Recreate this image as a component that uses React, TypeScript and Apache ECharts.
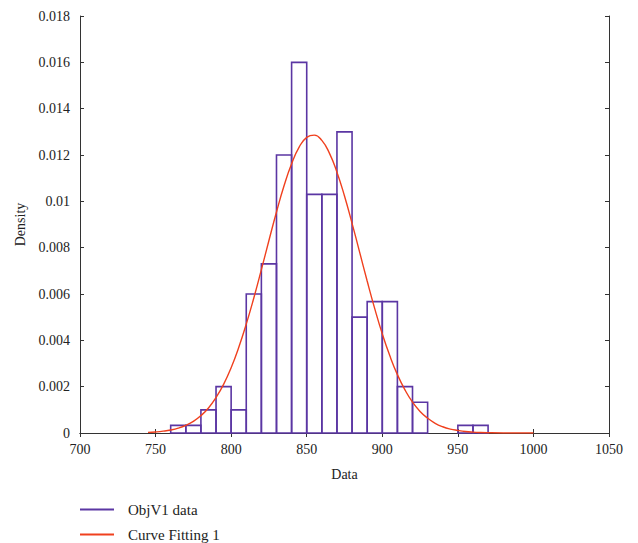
import React, { useEffect, useRef } from "react";
import * as echarts from "echarts";

// Histogram bins (left edge), bin width and density
const binStarts = [760, 770, 780, 790, 800, 810, 820, 830, 840, 850, 860, 870, 880, 890, 900, 910, 920, 950, 960];
const binWidth = 10;
const densities = [0.00033, 0.00033, 0.001, 0.002, 0.001, 0.006, 0.0073, 0.012, 0.016, 0.0103, 0.0103, 0.013, 0.005, 0.00567, 0.00567, 0.002, 0.00133, 0.00033, 0.00033];

// Fitted curve points
const curveX = [745, 750, 755, 760, 765, 770, 775, 780, 785, 790, 795, 800, 805, 810, 815, 820, 825, 830, 835, 840, 845, 850, 855, 860, 865, 870, 875, 880, 885, 890, 895, 900, 905, 910, 915, 920, 925, 930, 935, 940, 945, 950, 955, 960, 965, 970, 980, 990, 1000];
const curveY = [0.000027, 0.000046, 0.000079, 0.00013, 0.00021, 0.00033, 0.0005, 0.00075, 0.00108, 0.00153, 0.0021, 0.00282, 0.00369, 0.0047, 0.00583, 0.00705, 0.00831, 0.00954, 0.01067, 0.01162, 0.01234, 0.01276, 0.01286, 0.01263, 0.01208, 0.01126, 0.01023, 0.00905, 0.00781, 0.00656, 0.00537, 0.00428, 0.00333, 0.00252, 0.00186, 0.00133, 0.00093, 0.00064, 0.00042, 0.00027, 0.00017, 0.00011, 0.000064, 0.000037, 0.000021, 0.000012, 0.000003, 0.0000008, 0.0000002];

const xTicks = { min: 700, max: 1050, interval: 50 };
const yTicks = { min: 0, max: 0.018, interval: 0.002 };

const PURPLE = "#5b36a3";
const RED = "#f0401e";
const FONT = "Liberation Serif";

export default function App() {
  const ref = useRef<HTMLDivElement>(null);
  useEffect(() => {
    const chart = echarts.init(ref.current!, null, { renderer: "svg" });
    const histData = binStarts.map((s, i) => [s, s + binWidth, densities[i]]);
    const curveData = curveX.map((x, i) => [x, curveY[i]]);
    const axisLine = { show: true, lineStyle: { color: "#333", width: 1 } };
    const tick = { show: true, inside: true, length: 4, lineStyle: { color: "#333" } };
    const label = { color: "#222", fontFamily: FONT, fontSize: 14 };
    chart.setOption({
      animation: false,
      backgroundColor: "#fff",
      grid: { left: 80, right: 29, top: 16, bottom: 110 },
      legend: {
        orient: "vertical",
        left: 80,
        top: 502,
        height: 41,
        padding: 0,
        itemWidth: 34,
        itemHeight: 2,
        itemGap: 10,
        textStyle: { fontFamily: FONT, fontSize: 15, color: "#222", padding: [0, 0, 0, 9] },
        data: [
          { name: "ObjV1 data", icon: "rect", itemStyle: { color: PURPLE } },
          { name: "Curve Fitting 1", icon: "rect", itemStyle: { color: RED } },
        ],
      },
      xAxis: [
        {
          type: "value",
          ...xTicks,
          name: "Data",
          nameLocation: "middle",
          nameGap: 34,
          nameTextStyle: { fontFamily: FONT, fontSize: 14, color: "#222" },
          axisLine,
          axisTick: tick,
          axisLabel: { ...label, margin: 9, formatter: (v: number) => String(v) },
          splitLine: { show: false },
        },
        {
          type: "value",
          position: "top",
          ...xTicks,
          axisLine,
          axisTick: tick,
          axisLabel: { show: false },
          splitLine: { show: false },
        },
      ],
      yAxis: [
        {
          type: "value",
          ...yTicks,
          name: "Density",
          nameLocation: "middle",
          nameGap: 53,
          nameTextStyle: { fontFamily: FONT, fontSize: 14, color: "#222" },
          axisLine,
          axisTick: tick,
          axisLabel: { ...label, margin: 10, formatter: (v: number) => String(parseFloat(v.toFixed(3))) },
          splitLine: { show: false },
        },
        {
          type: "value",
          position: "right",
          ...yTicks,
          axisLine,
          axisTick: tick,
          axisLabel: { show: false },
          splitLine: { show: false },
        },
      ],
      series: [
        {
          name: "ObjV1 data",
          type: "custom",
          xAxisIndex: 0,
          yAxisIndex: 0,
          data: histData,
          itemStyle: { color: PURPLE },
          z: 2,
          renderItem: (params: any, api: any) => {
            const a = api.coord([api.value(0), api.value(2)]);
            const b = api.coord([api.value(1), 0]);
            return {
              type: "rect",
              shape: { x: a[0], y: a[1], width: b[0] - a[0], height: b[1] - a[1] },
              style: { fill: "none", stroke: PURPLE, lineWidth: 1.6 },
            };
          },
        },
        {
          name: "Curve Fitting 1",
          type: "line",
          xAxisIndex: 0,
          yAxisIndex: 0,
          data: curveData,
          smooth: true,
          showSymbol: false,
          lineStyle: { color: RED, width: 1.4 },
          itemStyle: { color: RED },
          z: 3,
        },
      ],
    });
    return () => chart.dispose();
  }, []);
  return <div ref={ref} style={{ width: 638, height: 543, position: "absolute", left: 0, top: 0 }} />;
}
